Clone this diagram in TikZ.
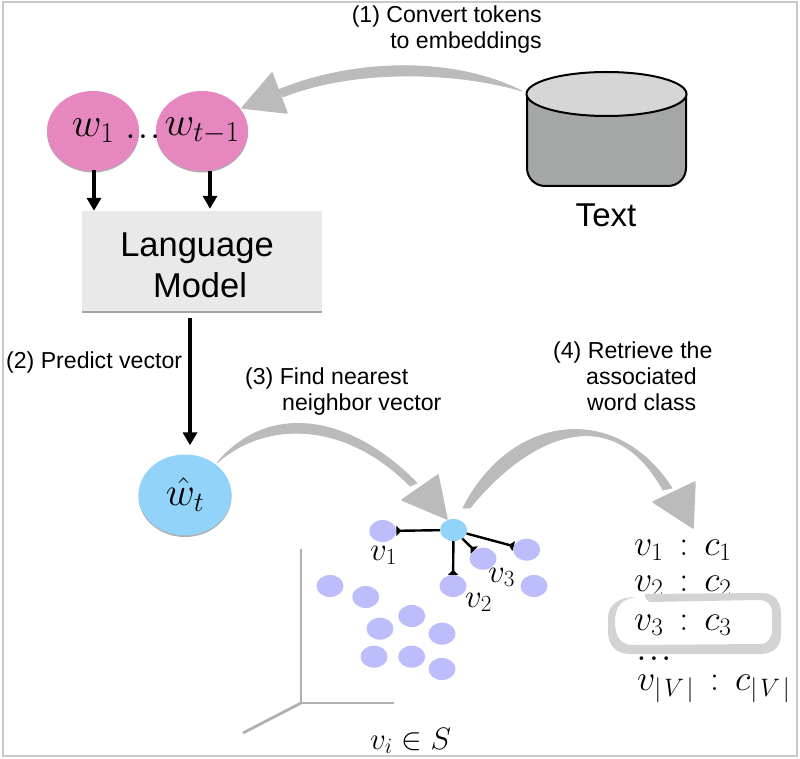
\RequirePackage{fix-cm}
\documentclass[tikz,border=0pt]{standalone}
\usepackage[no-math]{fontspec}
\setmainfont{Liberation Sans}
\usetikzlibrary{arrows.meta,shapes.geometric,shadows}
\definecolor{pinkc}{HTML}{E688BF}
\definecolor{bluec}{HTML}{92D3FA}
\definecolor{dotc}{HTML}{BDBDFB}
\definecolor{boxc}{HTML}{E9E9E9}
\definecolor{sketch}{HTML}{BBBBBB}
\definecolor{ringc}{HTML}{D3D3D3}
\definecolor{axisc}{HTML}{B0B0B0}
\definecolor{framec}{HTML}{C8C8C8}
\definecolor{cylbody}{HTML}{A5A7A6}
\definecolor{cyltop}{HTML}{D6D6D6}
\newcommand{\fs}[1]{\fontsize{#1}{#1}\selectfont}
\tikzset{
  softshadow/.style={drop shadow={shadow xshift=0pt,shadow yshift=-1.5pt,opacity=.45,fill=black!70}},
  wordnode/.style={ellipse,fill=pinkc,minimum width=92pt,minimum height=80pt,inner sep=0pt,softshadow,font=\fs{41}},
  hatnode/.style={ellipse,fill=bluec,minimum width=93pt,minimum height=81pt,inner sep=0pt,softshadow,font=\fs{40}},
  hubnode/.style={ellipse,fill=bluec,minimum width=27pt,minimum height=22pt,inner sep=0pt},
  vecdot/.style={ellipse,fill=dotc,minimum width=27pt,minimum height=22pt,inner sep=0pt},
  modelbox/.style={rectangle,fill=boxc,minimum width=240pt,minimum height=100pt,inner sep=0pt,
    drop shadow={shadow xshift=0pt,shadow yshift=-2pt,opacity=.5,fill=black!70}},
  modeltext/.style={inner sep=0pt,align=center,anchor=base,font=\fontsize{34.5}{41}\selectfont},
  blackarrow/.style={line width=3.3pt,-{Triangle[length=13pt,width=14pt]},black},
  barlink/.style={line width=2.4pt,black,-{Triangle[reversed,length=5pt,width=10pt]}},
  sketchbody/.style={fill=sketch,draw=sketch,line width=.8pt,line join=round},
  sketchhead/.style={fill=sketch,draw=sketch,line width=1.5pt,line join=round},
  steplabel/.style={inner sep=0pt,font=\fontsize{23.1}{26}\selectfont},
  mathlabel/.style={inner sep=0pt,anchor=base west,font=\fs{33}},
  listline/.style={inner sep=0pt,anchor=base west,font=\fs{36}},
  dotrow/.style={inner sep=0pt,anchor=base,font=\fs{38}},
  axisline/.style={line width=2.8pt,axisc},
}
\begin{document}
\begin{tikzpicture}[x=1pt,y=-1pt]
\useasboundingbox (0,0) rectangle (800,759);
\fill[white] (0,0) rectangle (800,759);
\draw[framec,line width=2.5pt] (3,2) rectangle (797,756);

% axes
\coordinate (origin) at (301,703);
\draw[axisline] (301,549) -- (origin) -- (394,703);
\draw[axisline] (origin) -- (243,733);

% sketch arrow 1
\coordinate (tailA) at (522,91);
\coordinate (tipA) at (242,108);
\filldraw[sketchbody] (tailA) .. controls (450,55) and (350,60) .. (278,90)
  -- (283,97) .. controls (350,70) and (450,70) .. (tailA) -- cycle;
\filldraw[sketchhead] (tipA) -- (272,73) -- (287,113) -- cycle;

% cylinder
\coordinate (db) at (606.5,94);
\draw[line width=2pt,fill=cylbody,rounded corners=18pt] (527,94) -- (527,186) -- (686,186) -- (686,94);
\draw[line width=2pt,fill=cyltop] (db) ellipse [x radius=80,y radius=22];
\node[inner sep=0pt,anchor=base,font=\fs{33}] (textlabel) at (606,227) {Text};

% labels
\node[steplabel,align=right,anchor=base east] (stepone) at (542,49) {(1) Convert tokens\\to embeddings};
\node[steplabel,anchor=base west] (steptwo) at (6,368) {(2) Predict vector};
\node[steplabel,align=left,anchor=base west] (stepthree) at (245,410) {(3) Find nearest\\\hspace*{37pt}neighbor vector};
\node[steplabel,align=left,anchor=base west] (stepfour) at (553,410) {(4) Retrieve the\\\hspace*{33pt}associated\\\hspace*{34pt}word class};

% word nodes
\node[wordnode] (w1) at (93,131) {\makebox[0pt]{\raisebox{-3.5pt}{$w_1$}}};
\node[wordnode] (wt) at (202,131) {\makebox[0pt]{\raisebox{-3.5pt}{$w_{t-1}$}}};
\node[dotrow] (wdots) at (143,139) {$.\mkern1mu.\mkern1mu.$};

% model
\node[modelbox] (model) at (202,261) {};
\node[modeltext] (modellabel) at (200,298) {Language\kern6pt\\Model};
\coordinate (w1out) at (94,170);
\coordinate (wtout) at (210,171);
\draw[blackarrow] (w1out) -- (w1out |- model.north);
\draw[blackarrow,shorten >=2pt] (wtout) -- (wtout |- model.north);

% prediction
\node[hatnode] (hat) at (185,495) {\makebox[0pt]{\raisebox{2pt}{$\hat{w}_t$}}};
\coordinate (modelout) at (190,318);
\draw[blackarrow,shorten >=9pt] (modelout) -- (modelout |- hat.north);

% sketch arrow 2
\coordinate (tailB) at (217,463);
\coordinate (tipB) at (447,519);
\filldraw[sketchbody] (tailB) .. controls (265,405) and (345,410) .. (417,483)
  -- (410,486) .. controls (345,420) and (265,420) .. (tailB) -- cycle;
\filldraw[sketchhead] (tipB) -- (402,500) -- (438,475) -- cycle;

% vectors
\node[hubnode] (hub) at (453.5,530) {};
\node[vecdot] (d1) at (382.7,531) {};
\node[vecdot] (d2) at (453,586) {};
\node[vecdot] (d3) at (483,558.7) {};
\node[vecdot] (d4) at (526.7,549.7) {};
\node[vecdot] (d5) at (534,586) {};
\node[vecdot] (d6) at (330,586) {};
\node[vecdot] (d7) at (365.7,597) {};
\node[vecdot] (d8) at (411.7,616) {};
\node[vecdot] (d9) at (380,628.7) {};
\node[vecdot] (d10) at (442,633.7) {};
\node[vecdot] (d11) at (374,656.7) {};
\node[vecdot] (d12) at (411.7,656.7) {};
\node[vecdot] (d13) at (442,669) {};
\draw[barlink] (hub) -- (d1);
\draw[barlink] (hub) -- (d2);
\draw[barlink] (hub) -- (d3);
\draw[barlink] (hub) -- (d4);
\node[mathlabel] (lv1) at (370,560) {$v_1$};
\node[mathlabel] (lv2) at (465,607) {$v_2$};
\node[mathlabel] (lv3) at (488,582) {$v_3$};
\node[mathlabel,font=\fs{31}] (lvs) at (370,749) {$v_i\in S$};

% sketch arrow 3
\coordinate (tailC) at (463,508);
\coordinate (tipC) at (693,528);
\filldraw[sketchbody] (tailC) .. controls (510,415) and (615,400) .. (672,488)
  -- (663,490) .. controls (610,395) and (525,440) .. (470,508) -- (tailC) -- cycle;
\filldraw[sketchhead] (tipC) -- (653,502) -- (695,482) -- cycle;

% class list
\node[listline] (c1) at (634,555) {$v_1\,:\,c_1$};
\node[listline] (c2) at (634,591) {$v_2\,:\,c_2$};
\fill[white,rounded corners=14pt] (612,596) rectangle (776,650);
\fill[ringc] (645,594) -- (762,593) .. controls (775,593) and (781,602) .. (781,614)
  -- (781,634) .. controls (781,647) and (773,654) .. (760,654)
  -- (630,654) .. controls (616,654) and (608,645) .. (608,632)
  -- (608,618) .. controls (608,604) and (620,597) .. (636,597)
  .. controls (622,599) and (615,606) .. (615,622)
  .. controls (615,638) and (622,645) .. (632,645)
  -- (760,644) .. controls (768,644) and (772,638) .. (772,630)
  -- (772,612) .. controls (772,604) and (767,600) .. (758,600)
  -- (650,602) .. controls (647,601) and (645,599) .. (645,594) -- cycle;
\node[listline] (c3) at (634,630) {$v_3\,:\,c_3$};
\node[dotrow] (cdots) at (654,660) {$.\mkern1mu.\mkern1mu.$};
\node[listline] (cv) at (637,690) {$v_{|\mkern2mu V\mkern2mu|}\,:\,c_{|\mkern2mu V\mkern2mu|}$};
\end{tikzpicture}
\end{document}
